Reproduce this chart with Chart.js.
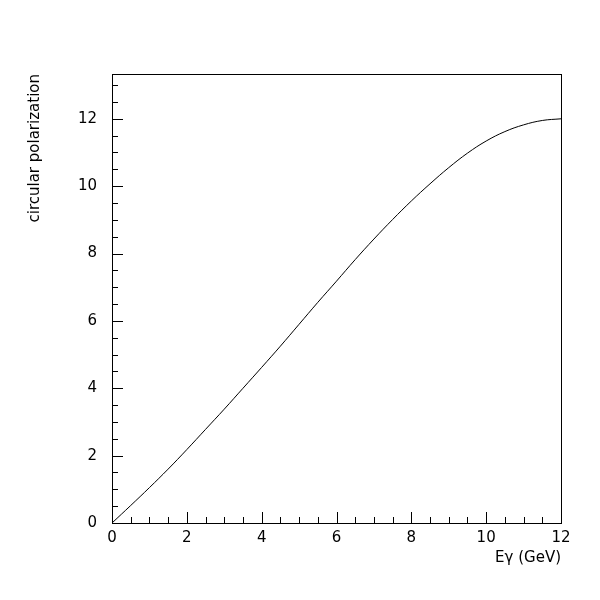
<!DOCTYPE html>
<html>
<head>
<meta charset="utf-8">
<script src="https://cdn.jsdelivr.net/npm/chart.js@4"></script>
<style>
  html, body { margin: 0; padding: 0; background: #fff; }
  canvas { display: block; }
</style>
</head>
<body>
<canvas id="polChart" width="600" height="600"></canvas>
<script>
// Photon energy (GeV) and circular polarization
const energy = [0, 0.5, 1, 1.5, 2, 2.5, 3, 3.5, 4, 4.5, 5, 5.5, 6, 6.5, 7, 7.5, 8, 8.5, 9, 9.5, 10, 10.5, 11, 11.5, 12];
const polarization = [0, 0.52, 1.05, 1.6, 2.18, 2.78, 3.38, 4.0, 4.62, 5.25, 5.9, 6.55, 7.18, 7.82, 8.43, 9.01, 9.56, 10.07, 10.55, 10.98, 11.34, 11.62, 11.82, 11.95, 12.0];

// Axis ranges and tick steps
const xRange = [0, 12];
const yRange = [0, 13.33];
const majorStep = 2;
const minorStep = 0.5;

const fontFamily = "'DejaVu Sans', Verdana, sans-serif";

// Draw frame and inward tick marks like the original
const framePlugin = {
    id: 'frame',
    afterDraw(chart) {
        const ctx = chart.ctx;
        const area = chart.chartArea;
        const xs = chart.scales.x;
        const ys = chart.scales.y;
        ctx.save();
        ctx.strokeStyle = '#000';
        ctx.lineWidth = 1;
        ctx.strokeRect(area.left + 0.5, area.top + 0.5, area.right - area.left, area.bottom - area.top);

        ctx.beginPath();
        for (let v = xRange[0]; v <= xRange[1] + 1e-6; v += minorStep) {
            const px = Math.round(xs.getPixelForValue(v)) + 0.5;
            const len = Math.abs(v % majorStep) < 1e-6 ? 11 : 6;
            ctx.moveTo(px, area.bottom);
            ctx.lineTo(px, area.bottom - len);
        }
        for (let v = yRange[0]; v <= yRange[1] + 1e-6; v += minorStep) {
            const py = Math.round(ys.getPixelForValue(v)) + 0.5;
            const len = Math.abs(v % majorStep) < 1e-6 ? 11 : 6;
            ctx.moveTo(area.left, py);
            ctx.lineTo(area.left + len, py);
        }
        ctx.stroke();
        ctx.restore();
    }
};

// Only label the major ticks
function majorLabel(value) {
    return Math.abs(value % majorStep) < 1e-6 ? value : null;
}

function createChart() {
    const ctx = document.getElementById('polChart').getContext('2d');
    const points = energy.map((e, i) => ({ x: e, y: polarization[i] }));

    new Chart(ctx, {
        type: 'scatter',
        data: {
            datasets: [{
                data: points,
                showLine: true,
                borderColor: '#000',
                borderWidth: 1,
                pointRadius: 0,
                tension: 0.4
            }]
        },
        options: {
            responsive: false,
            animation: false,
            layout: {
                padding: { left: 0, top: 74, right: 39, bottom: 33 }
            },
            plugins: {
                legend: { display: false },
                tooltip: { enabled: false }
            },
            scales: {
                x: {
                    type: 'linear',
                    min: xRange[0],
                    max: xRange[1],
                    afterFit: function (scale) { scale.height = 44; },
                    grid: { display: false, drawTicks: false },
                    border: { display: false },
                    ticks: {
                        stepSize: majorStep,
                        padding: 6,
                        color: '#000',
                        maxRotation: 0,
                        callback: majorLabel,
                        font: { family: fontFamily, size: 15 }
                    },
                    title: {
                        display: true,
                        text: 'Eγ (GeV)',
                        align: 'end',
                        color: '#000',
                        padding: { top: 0, bottom: 0 },
                        font: { family: fontFamily, size: 15 }
                    }
                },
                y: {
                    type: 'linear',
                    min: yRange[0],
                    max: yRange[1],
                    afterFit: function (scale) { scale.width = 112; },
                    grid: { display: false, drawTicks: false },
                    border: { display: false },
                    ticks: {
                        stepSize: majorStep,
                        padding: 15,
                        color: '#000',
                        callback: majorLabel,
                        font: { family: fontFamily, size: 15 }
                    },
                    title: {
                        display: true,
                        text: 'circular polarization',
                        align: 'end',
                        color: '#000',
                        padding: { top: 26, bottom: 0 },
                        font: { family: fontFamily, size: 15 }
                    }
                }
            }
        },
        plugins: [framePlugin]
    });
}

document.addEventListener('DOMContentLoaded', function () {
    createChart();
});
</script>
</body>
</html>
